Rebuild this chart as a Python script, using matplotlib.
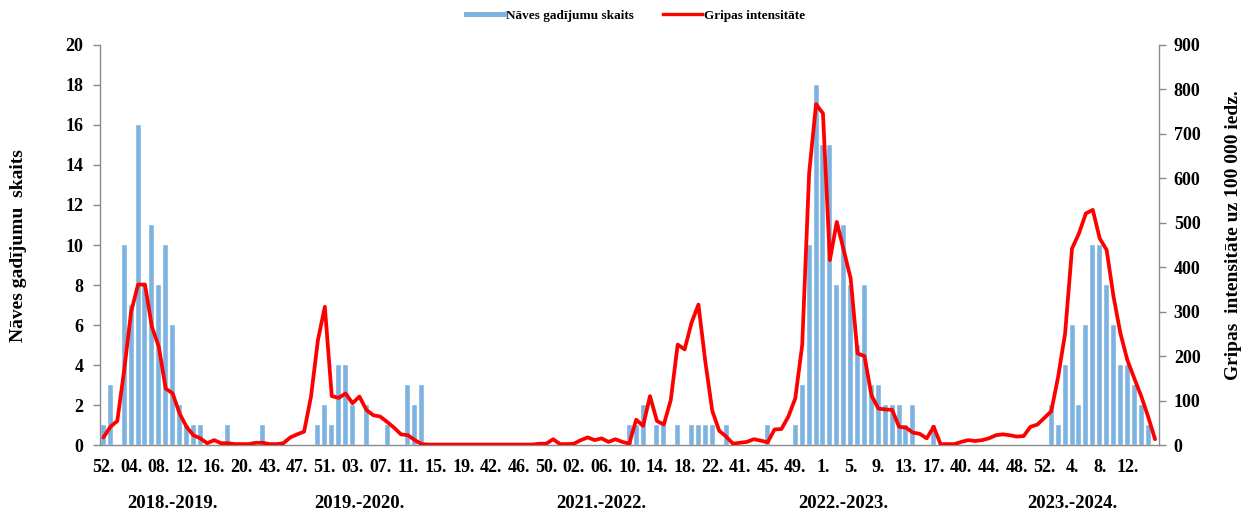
import numpy as np
import matplotlib
matplotlib.use("Agg")
import matplotlib.pyplot as plt
from matplotlib.lines import Line2D
from matplotlib.transforms import blended_transform_factory

plt.rcParams['font.family'] = ['Liberation Serif', 'DejaVu Serif']
plt.rcParams['font.weight'] = 'bold'

# ---- data ----
season_names = ["2018.-2019.", "2019.-2020.", "2021.-2022.", "2022.-2023.", "2023.-2024."]
season_lengths = [21, 33, 37, 33, 29]
season_label_pos = [10, 37, 72, 107, 140]

tick_labels = ["52.", "04.", "08.", "12.", "16.", "20.", "43.", "47.", "51.", "03.",
               "07.", "11.", "15.", "19.", "42.", "46.", "50.", "02.", "06.", "10.",
               "14.", "18.", "22.", "41.", "45.", "49.", "1.", "5.", "9.", "13.",
               "17.", "40.", "44.", "48.", "52.", "4.", "8.", "12."]

deaths_1819 = [1, 3, 0, 10, 7, 16, 8, 11, 8, 10, 6, 2, 1, 1, 1, 0, 0, 0, 1, 0, 0]
deaths_1920 = [0, 0, 1, 0, 0, 0, 0, 0, 0, 0, 1, 2, 1, 4, 4, 2, 0, 2, 0, 0,
               1, 0, 0, 3, 2, 3, 0, 0, 0, 0, 0, 0, 0]
deaths_2122 = [0, 0, 0, 0, 0, 0, 0, 0, 0, 0, 0, 0, 0, 0, 0, 0, 0, 0, 0, 0,
               0, 0, 1, 1, 2, 0, 1, 1, 0, 1, 0, 1, 1, 1, 1, 0, 1]
deaths_2223 = [0, 0, 0, 0, 0, 1, 0, 0, 0, 1, 3, 10, 18, 15, 15, 8, 11, 8, 5, 8,
               3, 3, 2, 2, 2, 1, 2, 0, 0, 1, 0, 0, 0]
deaths_2324 = [0, 0, 0, 0, 0, 0, 0, 0, 0, 0, 0, 0, 0, 2, 1, 4, 6, 2, 6, 10,
               10, 8, 6, 4, 4, 3, 2, 1, 0]

flu_1819 = [17, 41, 54, 169, 300, 361, 361, 266, 221, 127, 116, 71, 41, 22, 15, 4,
            11, 4, 4, 2, 2]
flu_1920 = [2, 5, 5, 2, 2, 4, 17, 24, 30, 109, 236, 311, 110, 106, 116, 94, 109, 79,
            67, 64, 52, 39, 24, 22, 11, 2, 1, 1, 1, 1, 1, 1, 1]
flu_2122 = [1, 1, 1, 1, 1, 1, 1, 1, 1, 3, 3, 13, 2, 2, 3, 11, 17, 11, 15, 7,
            13, 7, 3, 57, 43, 110, 54, 46, 101, 226, 215, 275, 316, 187, 77, 32, 19]
flu_2223 = [3, 5, 7, 13, 10, 6, 35, 36, 64, 105, 225, 611, 767, 746, 416, 502, 439,
            375, 206, 200, 112, 82, 80, 79, 41, 39, 28, 25, 15, 41, 2, 2, 2]
flu_2324 = [7, 11, 9, 11, 15, 22, 24, 22, 19, 20, 41, 46, 61, 76, 154, 251, 442, 476,
            521, 529, 465, 439, 334, 251, 191, 150, 110, 64, 13]

deaths = deaths_1819 + deaths_1920 + deaths_2122 + deaths_2223 + deaths_2324
flu = flu_1819 + flu_1920 + flu_2122 + flu_2223 + flu_2324
n = len(deaths)
x = np.arange(n)

# ---- styling ----
BLUE = '#7db3e0'
RED = '#ff0000'
GRAY = '#8a8a8a'

fig = plt.figure(figsize=(12.51, 5.16), dpi=100)
ax = fig.add_axes([100 / 1251, 71 / 516, 1058.5 / 1251, 400 / 516])

ax.bar(x, deaths, width=0.72, color=BLUE, edgecolor='white', linewidth=0.3, zorder=2)
ax.set_xlim(-0.5, n - 0.5)
ax.set_ylim(0, 20)
ax.set_yticks(np.arange(0, 21, 2))

ax2 = ax.twinx()
ax2.plot(x, flu, color=RED, lw=2.7, solid_joinstyle='round', solid_capstyle='round', zorder=3)
ax2.set_ylim(0, 900)
ax2.set_yticks(np.arange(0, 901, 100))

for a in (ax, ax2):
    a.spines['top'].set_visible(False)
    for s in ('left', 'right', 'bottom'):
        a.spines[s].set_color(GRAY)
        a.spines[s].set_linewidth(1.0)
ax.spines['right'].set_visible(False)
ax2.spines['left'].set_visible(False)
ax2.spines['bottom'].set_visible(False)

ax.tick_params(axis='y', direction='out', length=5, width=1, color=GRAY, pad=7,
               labelsize=13)
ax2.tick_params(axis='y', direction='out', length=5, width=1, color=GRAY, pad=6,
                labelsize=13)
for lbl in ax.get_yticklabels() + ax2.get_yticklabels():
    lbl.set_fontweight('bold')

ax.set_xticks(x[:4 * len(tick_labels):4])
ax.set_xticklabels(tick_labels, fontsize=13, fontweight='bold')
ax.tick_params(axis='x', length=0, pad=10)

trans = blended_transform_factory(ax.transData, ax.transAxes)
for name, pos in zip(season_names, season_label_pos):
    ax.text(pos, -0.145, name, transform=trans, ha='center', va='center',
            fontsize=13.5, fontweight='bold')

fig.text(19 / 1251, 1 - 246 / 516, "Nāves gadījumu  skaits", rotation=90,
         ha='center', va='center', fontsize=14, fontweight='bold')
fig.text(1233 / 1251, 1 - 235 / 516, "Gripas  intensitāte uz 100 000 iedz.", rotation=90,
         ha='center', va='center', fontsize=14, fontweight='bold')

handles = [Line2D([0], [0], color=BLUE, lw=3.6),
           Line2D([0], [0], color=RED, lw=2.4)]
fig.legend(handles, ["Nāves gadījumu skaits", "Gripas intensitāte"], loc='center',
           bbox_to_anchor=(0.508, 0.969), ncol=2, frameon=False, handlelength=2.9,
           handletextpad=0.2, columnspacing=2.2, prop={'size': 9.5, 'weight': 'bold'})

fig.savefig("out.png", dpi=100)
